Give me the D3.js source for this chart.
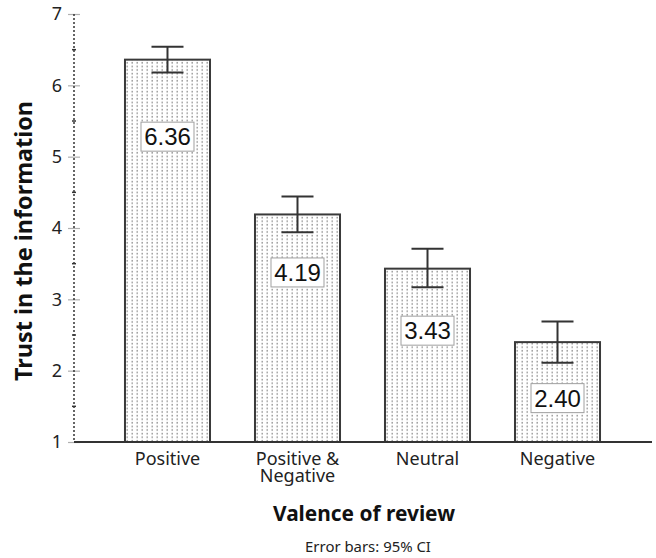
<!DOCTYPE html>
<html>
<head>
<meta charset="utf-8">
<script src="https://cdn.jsdelivr.net/npm/d3@7"></script>
<style>
  html, body { margin: 0; padding: 0; background: #fff; }
  svg { display: block; }
</style>
</head>
<body>
<svg id="chart" width="656" height="558"></svg>
<script>
// Mean trust by review valence, with 95% confidence intervals
const categories = ["Positive", "Positive & Negative", "Neutral", "Negative"];
const categoryLines = [["Positive"], ["Positive &", "Negative"], ["Neutral"], ["Negative"]];
const means = [6.36, 4.19, 3.43, 2.40];
const ciLow = [6.18, 3.94, 3.17, 2.11];
const ciHigh = [6.54, 4.44, 3.71, 2.69];
const yTicks = [1, 2, 3, 4, 5, 6, 7];
const yHalfTicks = [1.5, 2.5, 3.5, 4.5, 5.5, 6.5];

const svg = d3.select("#chart");

const axisX = 74, plotRight = 652;
const y = d3.scaleLinear().domain([1, 7]).range([442, 14]);
const x = d3.scaleBand().domain(categories).range([80, 645]).padding(0.346);

const FONT = "'Noto Sans', sans-serif";

// shrink or grow a text's font so that it spans the given width
function fitWidth(sel, width) {
  const node = sel.node();
  const fs = parseFloat(sel.attr("font-size"));
  const w = node.getComputedTextLength();
  if (w > 0) sel.attr("font-size", (fs * width / w).toFixed(2));
  return sel;
}

// dotted fill pattern for the bars
const defs = svg.append("defs");
const pat = defs.append("pattern")
  .attr("id", "dots").attr("patternUnits", "userSpaceOnUse")
  .attr("width", 5).attr("height", 3.6);
pat.append("rect").attr("width", 5).attr("height", 3.6).attr("fill", "#fff");
pat.append("rect").attr("x", 1.5).attr("y", 0.8).attr("width", 1.4).attr("height", 1.6).attr("fill", "#959595");

// y axis: major ticks with labels
const yAxis = svg.append("g").attr("transform", `translate(${axisX},0)`)
  .call(d3.axisLeft(y).tickValues(yTicks).tickFormat(d3.format("d")).tickSize(0).tickPadding(12));
yAxis.select(".domain").remove();
yAxis.selectAll("text")
  .attr("font-family", FONT).attr("font-size", 18).attr("fill", "#222");
yAxis.selectAll(".tick").append("line")
  .attr("x1", -6).attr("x2", 6).attr("stroke", "#b0b0b0").attr("stroke-width", 1.2);

// dotted axis line
svg.append("line")
  .attr("x1", axisX).attr("x2", axisX).attr("y1", y(7)).attr("y2", y(1))
  .attr("stroke", "#333").attr("stroke-width", 1.5).attr("stroke-dasharray", "2,2");

// half-unit minor ticks
svg.append("g").selectAll("line").data(yHalfTicks).join("line")
  .attr("x1", axisX - 2).attr("x2", axisX + 2)
  .attr("y1", d => y(d)).attr("y2", d => y(d))
  .attr("stroke", "#333").attr("stroke-width", 1.5);

// bars
svg.append("g").selectAll("rect").data(means).join("rect")
  .attr("x", (d, i) => x(categories[i]))
  .attr("y", d => y(d))
  .attr("width", x.bandwidth())
  .attr("height", d => y(1) - y(d))
  .attr("fill", "url(#dots)")
  .attr("stroke", "#3a3a3a").attr("stroke-width", 2);

// baseline
svg.append("line")
  .attr("x1", axisX).attr("x2", plotRight).attr("y1", y(1)).attr("y2", y(1))
  .attr("stroke", "#333").attr("stroke-width", 2);

// error bars
const capW = 32;
const eb = svg.append("g").attr("stroke", "#333").attr("stroke-width", 2);
categories.forEach((c, i) => {
  const cx = x(c) + x.bandwidth() / 2;
  eb.append("line").attr("x1", cx).attr("x2", cx).attr("y1", y(ciHigh[i])).attr("y2", y(ciLow[i]));
  eb.append("line").attr("x1", cx - capW / 2).attr("x2", cx + capW / 2).attr("y1", y(ciHigh[i])).attr("y2", y(ciHigh[i]));
  eb.append("line").attr("x1", cx - capW / 2).attr("x2", cx + capW / 2).attr("y1", y(ciLow[i])).attr("y2", y(ciLow[i]));
});

// value labels in boxes, placed below each bar's top
const labelDrop = [77, 58, 62, 56];
const boxW = 53, boxH = 29;
const lab = svg.append("g");
means.forEach((m, i) => {
  const cx = x(categories[i]) + x.bandwidth() / 2;
  const cy = y(m) + labelDrop[i];
  lab.append("rect")
    .attr("x", cx - boxW / 2).attr("y", cy - boxH / 2)
    .attr("width", boxW).attr("height", boxH)
    .attr("fill", "#fff").attr("stroke", "#a0a0a0").attr("stroke-width", 1);
  lab.append("text")
    .attr("x", cx).attr("y", cy).attr("dy", "0.36em")
    .attr("text-anchor", "middle")
    .attr("font-family", "'Liberation Sans', Arial, sans-serif").attr("font-size", 24)
    .attr("fill", "#111")
    .text(d3.format(".2f")(m));
});

// category labels
const xl = svg.append("g");
categories.forEach((c, i) => {
  const cx = x(c) + x.bandwidth() / 2;
  const t = xl.append("text")
    .attr("x", cx).attr("y", 465)
    .attr("text-anchor", "middle")
    .attr("font-family", FONT).attr("font-size", 18)
    .attr("fill", "#222");
  categoryLines[i].forEach((line, j) => {
    t.append("tspan").attr("x", cx).attr("dy", j === 0 ? 0 : 17).text(line);
  });
});

// axis titles
const yTitle = svg.append("text")
  .attr("transform", "translate(32,241) rotate(-90)")
  .attr("text-anchor", "middle")
  .attr("font-family", FONT).attr("font-weight", "bold").attr("font-size", 22)
  .attr("fill", "#111")
  .text("Trust in the information");
fitWidth(yTitle, 280);

const xTitle = svg.append("text")
  .attr("x", 364).attr("y", 521)
  .attr("text-anchor", "middle")
  .attr("font-family", FONT).attr("font-weight", "bold").attr("font-size", 20)
  .attr("fill", "#111")
  .text("Valence of review");
fitWidth(xTitle, 182);

const note = svg.append("text")
  .attr("x", 368).attr("y", 552)
  .attr("text-anchor", "middle")
  .attr("font-family", FONT).attr("font-size", 15)
  .attr("fill", "#222")
  .text("Error bars: 95% CI");
fitWidth(note, 126);
</script>
</body>
</html>
